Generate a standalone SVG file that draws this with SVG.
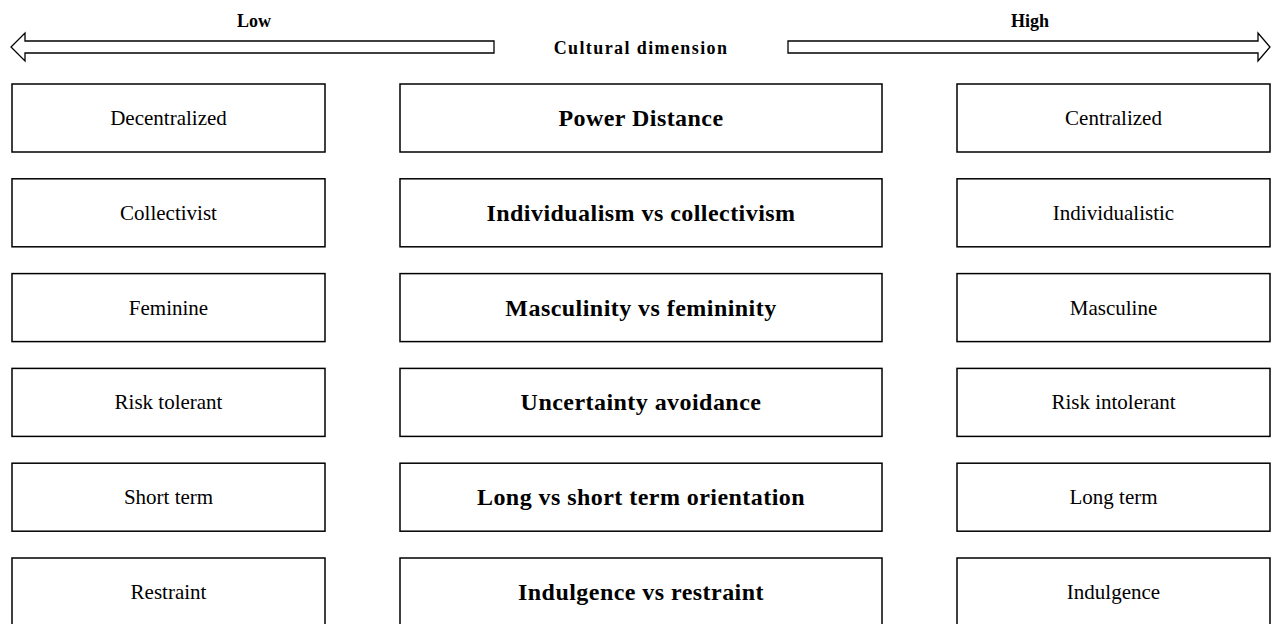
<svg xmlns="http://www.w3.org/2000/svg" width="1272" height="624" viewBox="0 0 1272 624">
<style>
.box{fill:#fff;stroke:#000;stroke-width:1.5}
.arr{fill:#fff;stroke:#000;stroke-width:1.3;stroke-linejoin:miter}
.side{font-family:"Liberation Serif","Times New Roman",serif;font-size:21px;fill:#000;text-anchor:middle;dominant-baseline:central}
.mid{font-family:"Liberation Serif","Times New Roman",serif;font-size:24px;font-weight:bold;fill:#000;text-anchor:middle;dominant-baseline:central;letter-spacing:0.45px}
.hdr{font-family:"Liberation Serif","Times New Roman",serif;font-size:18px;font-weight:bold;fill:#000;text-anchor:middle}
</style>
<rect width="1272" height="624" fill="#fff"/>
<g id="connectors">
<path class="arr" d="M494,41 L25,41 L25,33 L11,47 L25,61 L25,53 L494,53 Z"/>
<path class="arr" d="M788,41 L1258,41 L1258,33 L1270,47 L1258,61 L1258,53 L788,53 Z"/>
</g>
<g id="header">
<text class="hdr" x="254" y="27">Low</text>
<text class="hdr" x="1030" y="27">High</text>
<text class="hdr" x="641" y="54" style="letter-spacing:1.4px">Cultural dimension</text>
</g>
<g id="row1">
<g id="low1"><rect class="box" x="12" y="84" width="313" height="68"/><text class="side" x="168.5" y="118">Decentralized</text></g>
<g id="dim1"><rect class="box" x="400" y="84" width="482" height="68"/><text class="mid" x="641" y="118">Power Distance</text></g>
<g id="high1"><rect class="box" x="957" y="84" width="313" height="68"/><text class="side" x="1113.5" y="118">Centralized</text></g>
</g>
<g id="row2">
<g id="low2"><rect class="box" x="12" y="178.8" width="313" height="68"/><text class="side" x="168.5" y="212.8">Collectivist</text></g>
<g id="dim2"><rect class="box" x="400" y="178.8" width="482" height="68"/><text class="mid" x="641" y="212.8">Individualism vs collectivism</text></g>
<g id="high2"><rect class="box" x="957" y="178.8" width="313" height="68"/><text class="side" x="1113.5" y="212.8">Individualistic</text></g>
</g>
<g id="row3">
<g id="low3"><rect class="box" x="12" y="273.6" width="313" height="68"/><text class="side" x="168.5" y="307.6">Feminine</text></g>
<g id="dim3"><rect class="box" x="400" y="273.6" width="482" height="68"/><text class="mid" x="641" y="307.6">Masculinity vs femininity</text></g>
<g id="high3"><rect class="box" x="957" y="273.6" width="313" height="68"/><text class="side" x="1113.5" y="307.6">Masculine</text></g>
</g>
<g id="row4">
<g id="low4"><rect class="box" x="12" y="368.4" width="313" height="68"/><text class="side" x="168.5" y="402.4">Risk tolerant</text></g>
<g id="dim4"><rect class="box" x="400" y="368.4" width="482" height="68"/><text class="mid" x="641" y="402.4">Uncertainty avoidance</text></g>
<g id="high4"><rect class="box" x="957" y="368.4" width="313" height="68"/><text class="side" x="1113.5" y="402.4">Risk intolerant</text></g>
</g>
<g id="row5">
<g id="low5"><rect class="box" x="12" y="463.2" width="313" height="68"/><text class="side" x="168.5" y="497.2">Short term</text></g>
<g id="dim5"><rect class="box" x="400" y="463.2" width="482" height="68"/><text class="mid" x="641" y="497.2">Long vs short term orientation</text></g>
<g id="high5"><rect class="box" x="957" y="463.2" width="313" height="68"/><text class="side" x="1113.5" y="497.2">Long term</text></g>
</g>
<g id="row6">
<g id="low6"><rect class="box" x="12" y="558" width="313" height="68"/><text class="side" x="168.5" y="592">Restraint</text></g>
<g id="dim6"><rect class="box" x="400" y="558" width="482" height="68"/><text class="mid" x="641" y="592">Indulgence vs restraint</text></g>
<g id="high6"><rect class="box" x="957" y="558" width="313" height="68"/><text class="side" x="1113.5" y="592">Indulgence</text></g>
</g>
</svg>
